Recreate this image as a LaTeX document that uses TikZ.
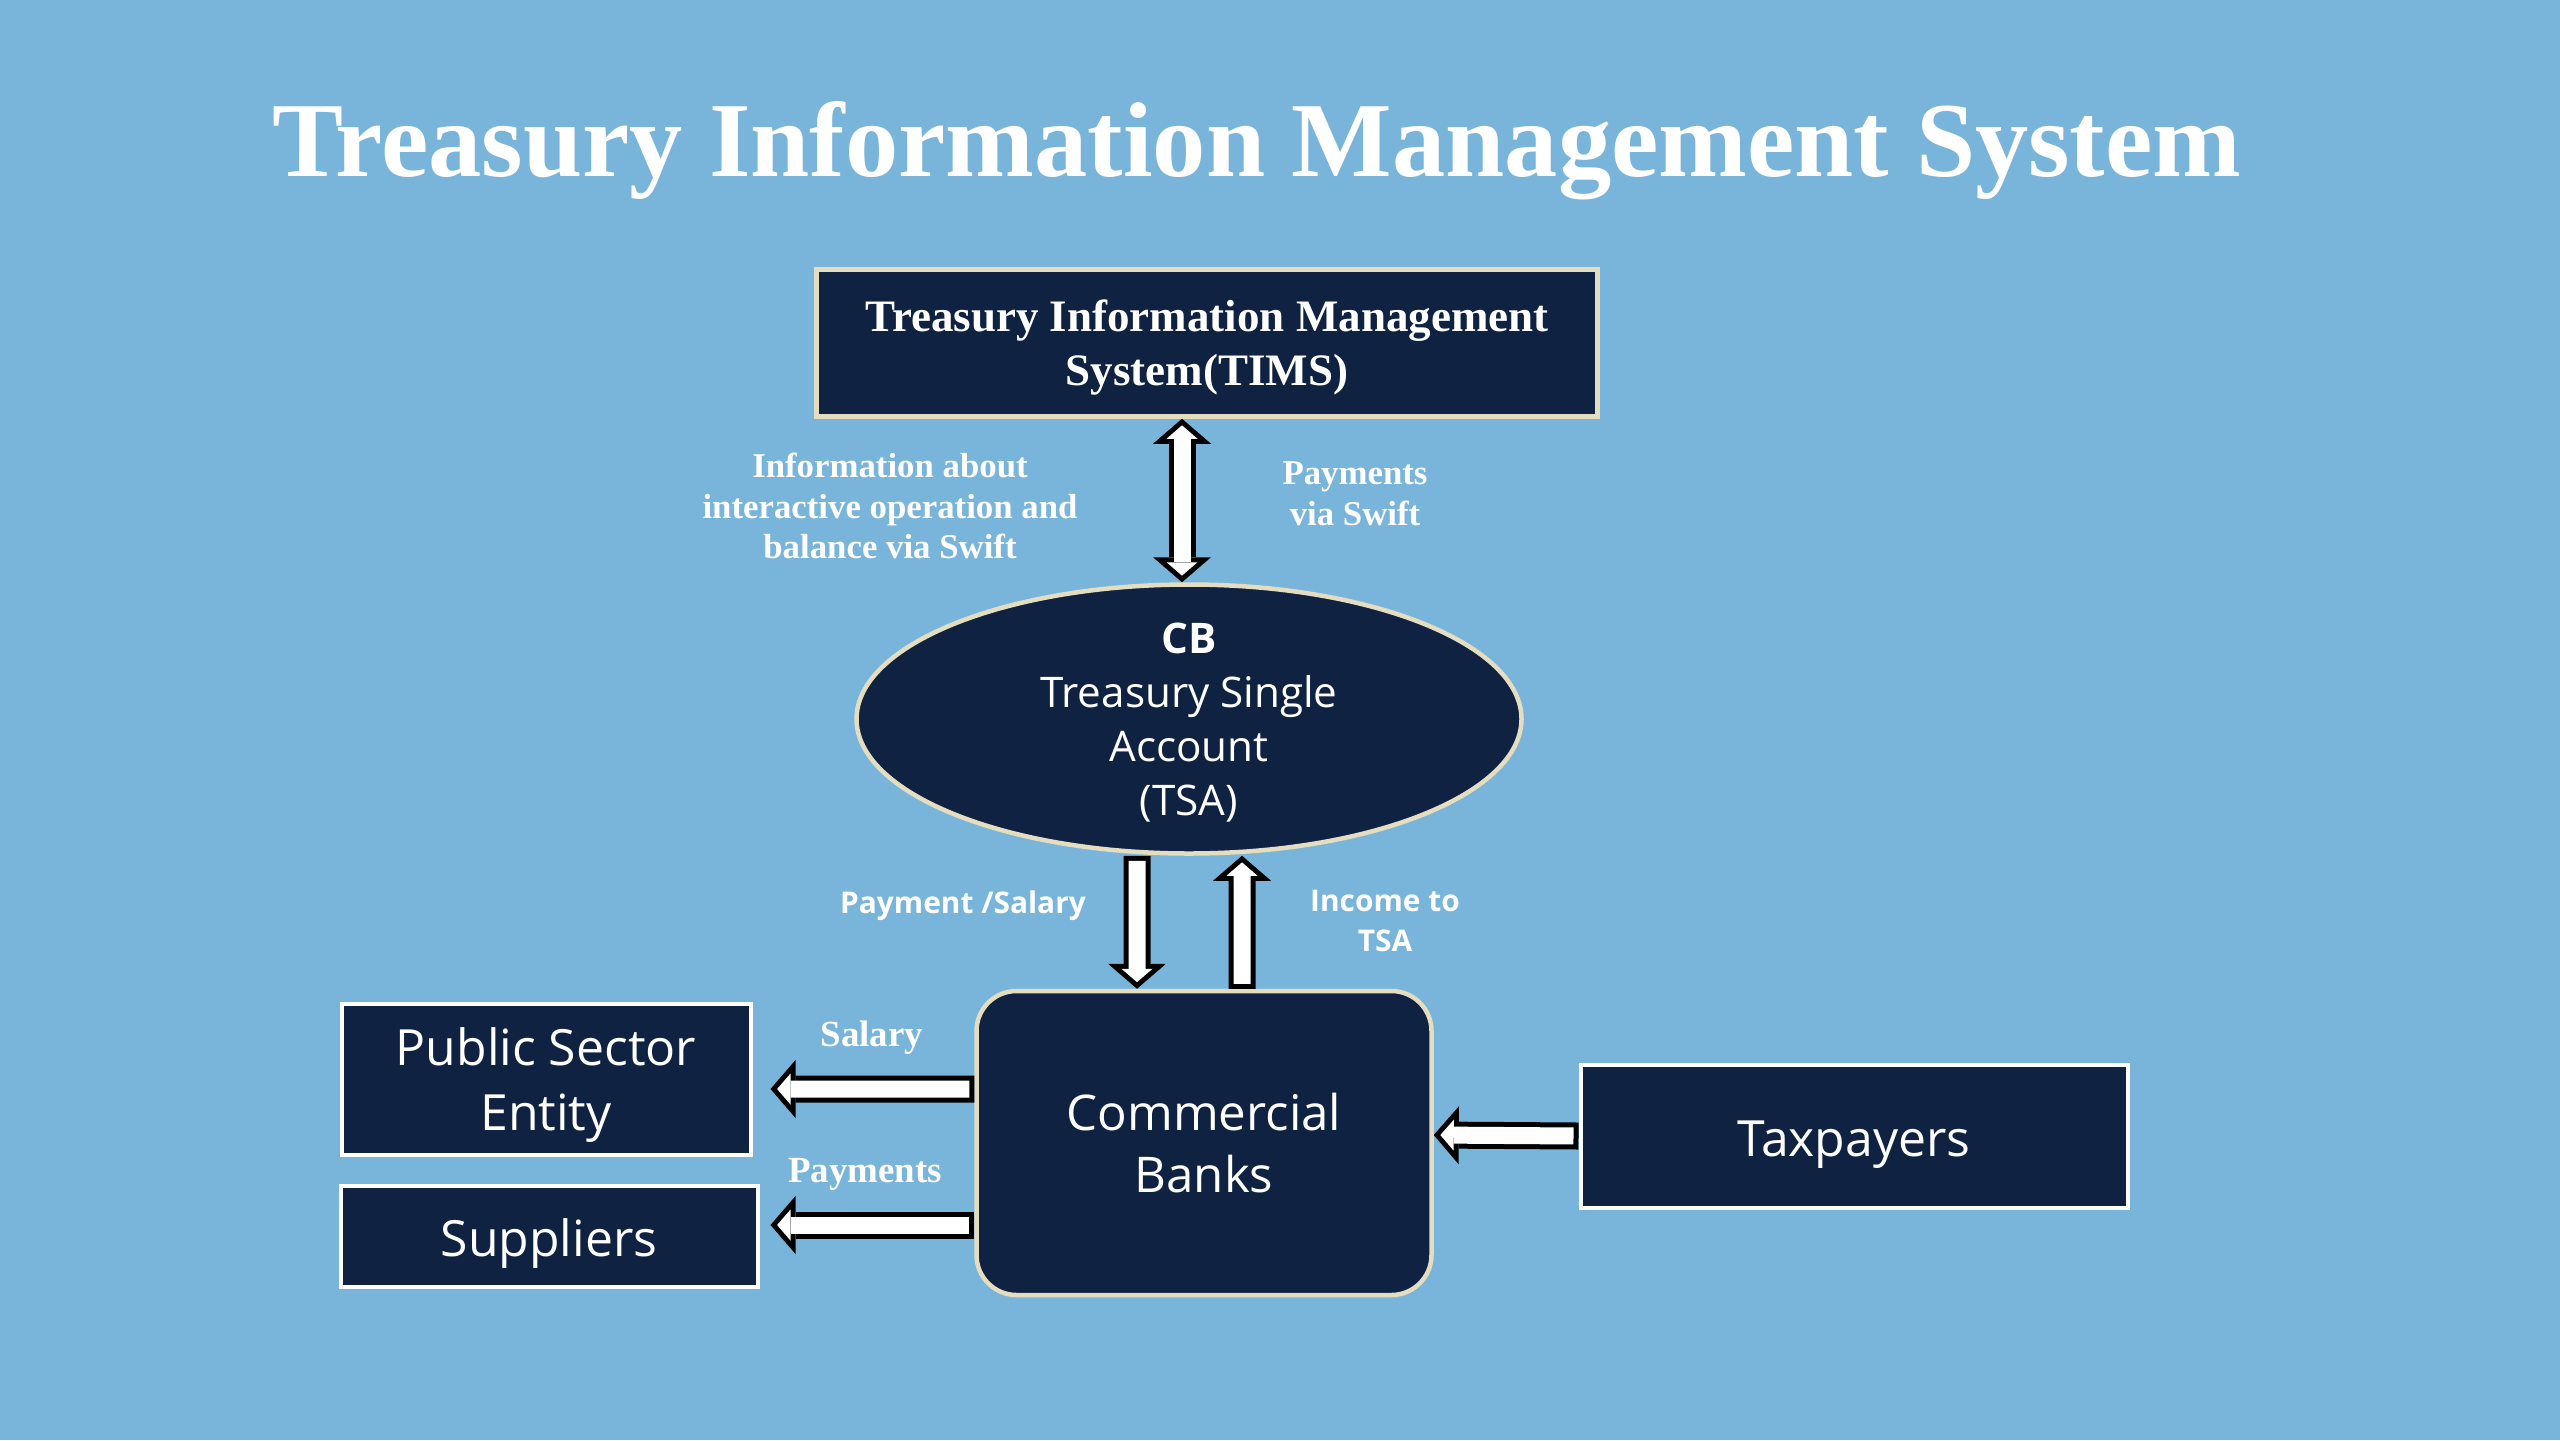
\documentclass[tikz,border=0pt]{standalone}
\usepackage{fontspec}
\setmainfont{Liberation Serif}
\setsansfont{Open Sans}
\usetikzlibrary{shapes.geometric, arrows.meta, positioning, calc}

\definecolor{bgblue}{HTML}{79B5DA}
\definecolor{navy}{HTML}{0F2241}
\definecolor{cream}{HTML}{E4DDBF}

\tikzset{
  Bout/.tip = {Triangle[length=0.25cm 0, width=0.58cm 0, line width=0pt 0]},
  Bin/.tip  = {Triangle[length=0.134cm 0, width=0.31cm 0, line width=0pt 0]}
}

\begin{document}
\begin{tikzpicture}[
  title/.style  = {text=white, font=\bfseries\fontsize{30.3}{36}\selectfont},
  lower/.style  = {execute at begin node={\rule{0pt}{1.05em}}},
  mainbox/.style= {rectangle, draw=cream, line width=0.045cm, fill=navy,
                   text=white, align=center, inner sep=0pt,
                   font=\bfseries\fontsize{12.8}{15.4}\selectfont},
  oval/.style   = {ellipse, draw=cream, line width=0.045cm, fill=navy,
                   text=white, align=center, inner xsep=0pt, inner ysep=-0.4cm,
                   font=\sffamily\fontsize{12}{15.4}\selectfont},
  bank/.style   = {rectangle, rounded corners=0.4cm, draw=cream, line width=0.045cm,
                   fill=navy, text=white, align=center, inner sep=0pt,
                   font=\sffamily\fontsize{14}{17.6}\selectfont},
  box/.style    = {rectangle, draw=white, line width=0.04cm, fill=navy,
                   text=white, align=center, inner sep=0pt,
                   font=\sffamily\fontsize{14.2}{18.5}\selectfont},
  lbl/.style    = {text=white, align=center, font=\bfseries\fontsize{9.9}{11.6}\selectfont},
  slbl/.style   = {text=white, align=center, font=\sffamily\bfseries\fontsize{8.5}{11.6}\selectfont},
  aout/.style   = {line width=0.27cm, draw=black, -Bout},
  ain/.style    = {line width=0.17cm, draw=white, shorten >=0.066cm,
                   shorten <=0.05cm, -Bin}
]
\fill[bgblue] (0,0) rectangle (25.6,-14.4);
\useasboundingbox (0,0) rectangle (25.6,-14.4);

\node[title, anchor=base] (head) at (12.57,-1.76) {Treasury Information Management System};

\node[mainbox, minimum width=7.81cm, minimum height=1.47cm, text depth=-0.03cm] (tims)
  at (12.07,-3.43) {Treasury Information Management\\System(TIMS)};
\node[oval, minimum width=6.65cm, minimum height=2.69cm, text depth=-0.03cm] (tsa)
  at (11.89,-7.19) {{\bfseries CB}\\Treasury Single\\Account\\(TSA)};
\node[bank, minimum width=4.55cm, minimum height=3.04cm, text depth=-0.13cm] (cb)
  at (12.04,-11.43) {Commercial\\Banks};

\node[box, minimum width=4.09cm, minimum height=1.51cm, text depth=-0.01cm] (psent)
  at (5.46,-10.79) {Public Sector\\Entity};
\node[box, lower, minimum width=4.17cm, minimum height=1.01cm] (sup) at (5.49,-12.36) {Suppliers};
\node[box, lower, minimum width=5.47cm, minimum height=1.43cm] (tax) at (18.54,-11.36) {Taxpayers};

% labels
\node[lbl] (info) at (8.90,-5.06) {Information about\\interactive operation and\\balance via Swift};
\node[lbl] (swift) at (13.55,-4.94) {Payments\\via Swift};
\node[slbl] (paysal) at (9.63,-9.06) {Payment /Salary};
\node[slbl] (income) at (13.85,-9.21) {Income to\\TSA};
\node[lbl, font=\bfseries\fontsize{10.5}{12}\selectfont] (sal) at (8.72,-10.38) {Salary};
\node[lbl, font=\bfseries\fontsize{10.5}{12}\selectfont] (pay) at (8.65,-11.74) {Payments};

% block arrows
\coordinate (top) at ([xshift=-0.07cm]tsa.north);
\draw[aout, Bout-Bout] (tims.south -| top) -- (top);
\draw[ain, Bin-Bin, shorten <=0.066cm] (tims.south -| top) -- (top);

\draw[aout] ([xshift=-0.52cm]tsa.south) -- ([xshift=-0.67cm]cb.north);
\draw[ain]  ([xshift=-0.52cm]tsa.south) -- ([xshift=-0.67cm]cb.north);
\draw[aout] ([xshift=0.38cm]cb.north) -- ([xshift=0.53cm]tsa.south);
\draw[ain]  ([xshift=0.38cm]cb.north) -- ([xshift=0.53cm]tsa.south);

\draw[aout, shorten >=0.18cm] ([yshift=0.54cm]cb.west) -- ([yshift=-0.10cm]psent.east);
\draw[ain, shorten >=0.246cm] ([yshift=0.54cm]cb.west) -- ([yshift=-0.10cm]psent.east);
\draw[aout, shorten >=0.11cm] ([yshift=-0.82cm]cb.west) -- ([yshift=0.11cm]sup.east);
\draw[ain, shorten >=0.176cm] ([yshift=-0.82cm]cb.west) -- ([yshift=0.11cm]sup.east);

\draw[aout] (tax.west) -- ([yshift=0.08cm]cb.east);
\draw[ain]  (tax.west) -- ([yshift=0.08cm]cb.east);
\end{tikzpicture}
\end{document}
